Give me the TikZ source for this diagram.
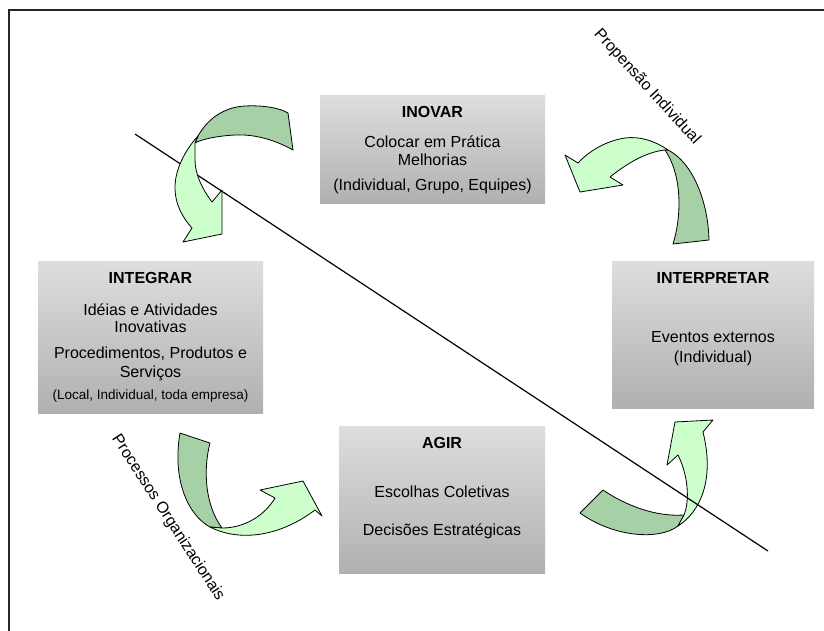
\documentclass[tikz,border=0pt]{standalone}
\usepackage{fontspec}
\setmainfont{Liberation Sans}
\definecolor{dkgreen}{RGB}{166,208,166}
\definecolor{ltgreen}{RGB}{204,255,204}
\definecolor{boxtop}{RGB}{222,222,222}
\definecolor{boxbot}{RGB}{176,176,176}
\begin{document}
\begin{tikzpicture}[x=1pt,y=-1pt,
  gbox/.style={shade,top color=boxtop,bottom color=boxbot,inner sep=0pt,draw=none},
  txt/.style={anchor=base,inner sep=0pt,font=\fontsize{16}{19}\selectfont},
  ttl/.style={txt,font=\fontsize{16}{19}\selectfont\bfseries},
  small/.style={anchor=base,inner sep=0pt,font=\fontsize{13.5}{16}\selectfont},
  back/.style={fill=dkgreen,draw=black,line width=0.8pt,line join=round},
  front/.style={fill=ltgreen,draw=black,line width=0.8pt,line join=round},
  axis/.style={draw=black,line width=1.2pt},
  rot/.style={inner sep=0pt,font=\fontsize{16}{19}\selectfont}]
\useasboundingbox (0,0) rectangle (824,630);
\fill[white] (0,0) rectangle (824,630);
% frame
\draw[line width=1.5pt,black!85] (9,631) -- (9,10) -- (825,10);

% boxes
\node[gbox,minimum width=225pt,minimum height=108pt] (inovar) at (432.5,149) {};
\node[gbox,minimum width=225pt,minimum height=152pt] (integrar) at (150.5,337) {};
\node[gbox,minimum width=202pt,minimum height=147pt] (interp) at (713,334.5) {};
\node[gbox,minimum width=206pt,minimum height=147pt] (agir) at (442,499.5) {};

% texts
\node[ttl] (t1) at (432.5,117.5) {INOVAR};
\node[txt] (t2) at (432.5,147.5) {Colocar em Prática};
\node[txt] (t3) at (432.5,165.5) {Melhorias};
\node[txt] (t4) at (432.5,190.5) {(Individual, Grupo, Equipes)};

\node[ttl] (i1) at (150.5,283.5) {INTEGRAR};
\node[txt] (i2) at (150.5,315.5) {Idéias e Atividades};
\node[txt] (i3) at (150.5,332.5) {Inovativas};
\node[txt] (i4) at (150.5,358.5) {Procedimentos, Produtos e};
\node[txt] (i5) at (150.5,377.5) {Serviços};
\node[small] (i6) at (150.5,399.5) {(Local, Individual, toda empresa)};

\node[ttl] (p1) at (713,283.5) {INTERPRETAR};
\node[txt] (p2) at (713,342.5) {Eventos externos};
\node[txt] (p3) at (713,362.5) {(Individual)};

\node[ttl] (a1) at (442,448.5) {AGIR};
\node[txt] (a2) at (442,497.5) {Escolhas Coletivas};
\node[txt] (a3) at (442,535.5) {Decisões Estratégicas};

% rotated labels
\node[rot,rotate=-47.7] (prop) at (647,87) {Propensão Individual};
\node[rot,rotate=-57] (proc) at (168,518) {Processos Organizacionais};

% arrow 2 (top right)
\path[back] (668,150) .. controls (692,162) and (708,200) .. (709,240) -- (673,244) .. controls (682,215) and (682,175) .. (665,150) -- cycle;
\path[front] (668,150) .. controls (655,141) and (640,136) .. (625,138) .. controls (605,141) and (588,152) .. (578,163) -- (565,155) -- (580,192) -- (623,185) -- (610,177) .. controls (625,165) and (645,152) .. (665,150) -- cycle;

% arrow 3 (bottom left)
\path[back] (180,433) -- (210,443) .. controls (203,470) and (205,505) .. (222,528) -- (210,527) .. controls (188,515) and (172,480) .. (180,433) -- cycle;
\path[front] (210,527) .. controls (235,540) and (275,540) .. (315,510) -- (322,516) -- (303,481) -- (260,490) -- (275,498) .. controls (265,515) and (245,528) .. (222,528) -- cycle;

% arrow 4 (bottom right)
\path[back] (580,513) -- (603,490) .. controls (625,505) and (655,517) .. (684,515) -- (678,526) .. controls (660,540) and (615,538) .. (580,513) -- cycle;
\path[front] (678,526) .. controls (700,512) and (715,480) .. (703,432) -- (713,420) -- (675,422) -- (667,465) -- (678,455) .. controls (688,475) and (690,500) .. (684,515) -- cycle;

% diagonal line
\coordinate (l1) at (135,134);
\coordinate (l2) at (768,551);
\draw[axis] (l1) -- (l2);

% arrow 1 (top left)
\path[back] (198,136) .. controls (208,118) and (225,107) .. (245,106) .. controls (263,105) and (280,108) .. (288,113) -- (293,150) .. controls (275,140) and (255,134) .. (235,135) .. controls (215,136) and (200,140) .. (195,143) -- cycle;
\path[front] (198,136) .. controls (185,150) and (175,170) .. (175,187) .. controls (175,205) and (183,218) .. (192,228) -- (183,242) -- (222,234) -- (222,190) -- (212,202) .. controls (203,190) and (195,175) .. (195,160) -- (195,143) -- cycle;
\end{tikzpicture}
\end{document}
